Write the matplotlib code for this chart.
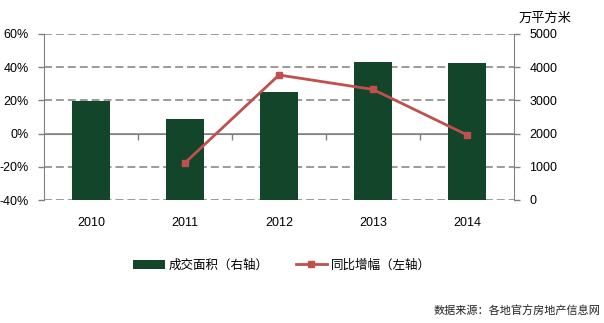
import numpy as np
import matplotlib
matplotlib.use("Agg")
import matplotlib.pyplot as plt
from matplotlib.lines import Line2D
from matplotlib.patches import Patch

# yearly transaction area (10k m2, right axis) and YoY growth (%, left axis)
years = ['2010', '2011', '2012', '2013', '2014']
area = [2970, 2445, 3260, 4160, 4130]
growth_years = ['2011', '2012', '2013', '2014']
growth = [-17.6, 35.3, 26.6, -0.8]

left_ticks = [-40, -20, 0, 20, 40, 60]
right_ticks = [0, 1000, 2000, 3000, 4000, 5000]

BAR_COLOR = '#12452a'
LINE_COLOR = '#c0504d'
GRID_COLOR = '#808080'
NUM_FONT = ['Liberation Sans', 'DejaVu Sans']
CJK_FONT = ['Noto Sans CJK SC', 'DejaVu Sans']

fig = plt.figure(figsize=(6.04, 3.23), dpi=100)
rect = [44 / 604, 1 - 200 / 323, 470 / 604, 166 / 323]

x = np.arange(len(years))
gx = np.array([years.index(y) for y in growth_years])

# bars on the right-hand axis, drawn underneath
ax2 = fig.add_axes(rect)
ax2.set_xlim(-0.5, len(years) - 0.5)
ax2.set_ylim(0, 5000)
for v in right_ticks:
    if v == 2000:
        ax2.axhline(v, color=GRID_COLOR, lw=1.1, zorder=0)
    else:
        ax2.axhline(v, color=GRID_COLOR, lw=1.1, dashes=(5.2, 2.6), zorder=0)
ax2.bar(x, area, width=0.41, color=BAR_COLOR, zorder=3)
ax2.yaxis.tick_right()
ax2.set_yticks(right_ticks)
ax2.set_yticklabels([str(v) for v in right_ticks], family=NUM_FONT, fontsize=9)
ax2.tick_params(axis='y', direction='out', length=4, width=1, color=GRID_COLOR, pad=7)
ax2.set_xticks(x[:-1] + 0.5)
ax2.set_xticklabels([])
ax2.tick_params(axis='x', direction='out', length=4, width=1, color=GRID_COLOR)
ax2.spines['bottom'].set_position(('data', 2000))
ax2.spines['bottom'].set_color(GRID_COLOR)
ax2.spines['bottom'].set_zorder(1)
ax2.spines['right'].set_color(GRID_COLOR)
for s in ['top', 'left']:
    ax2.spines[s].set_visible(False)

# growth line on the left-hand axis, on top
ax = fig.add_axes(rect)
ax.set_zorder(ax2.get_zorder() + 1)
ax.patch.set_visible(False)
ax.set_xlim(-0.5, len(years) - 0.5)
ax.set_ylim(-40, 60)
ax.plot(gx, growth, color=LINE_COLOR, lw=2, marker='s', markersize=4.5, zorder=5)
ax.set_yticks(left_ticks)
ax.set_yticklabels([f'{v}%' for v in left_ticks], family=NUM_FONT, fontsize=9)
ax.tick_params(axis='y', direction='out', length=4, width=1, color=GRID_COLOR, pad=7)
ax.set_xticks(x)
ax.set_xticklabels(years, family=NUM_FONT, fontsize=9)
ax.tick_params(axis='x', length=0, pad=12)
ax.spines['left'].set_color(GRID_COLOR)
for s in ['top', 'right', 'bottom']:
    ax.spines[s].set_visible(False)

fig.text(545 / 604, 1 - 18 / 323, '万平方米', family=CJK_FONT, fontsize=9.5,
         ha='center', va='center')

handles = [Patch(facecolor=BAR_COLOR, edgecolor='none'),
           Line2D([], [], color=LINE_COLOR, lw=2, marker='s', markersize=4.5)]
fig.legend(handles, ['成交面积（右轴）', '同比增幅（左轴）'], loc='center',
           bbox_to_anchor=(282 / 604, 1 - 265 / 323), ncol=2, frameon=False,
           prop={'family': CJK_FONT, 'size': 9}, handlelength=2.5, handleheight=0.7,
           handletextpad=0.3, columnspacing=2.2)

fig.text(600 / 604, 1 - 310 / 323, '数据来源：各地官方房地产信息网', family=CJK_FONT,
         fontsize=8, ha='right', va='center', color='#222222')

fig.savefig('out.png', dpi=100)
